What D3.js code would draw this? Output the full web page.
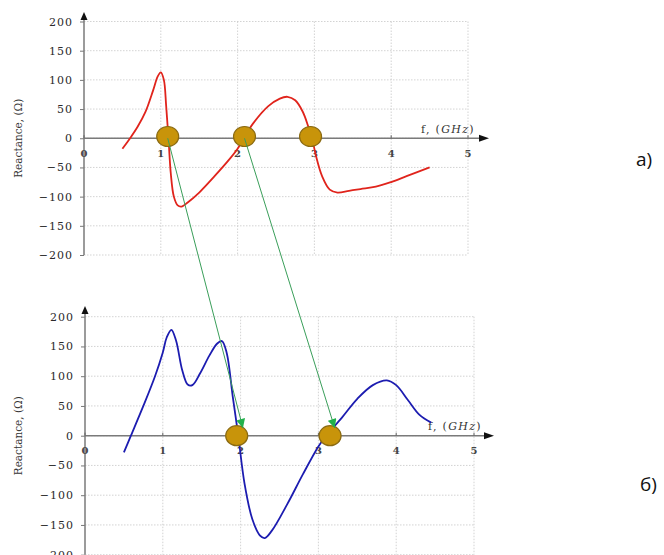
<!DOCTYPE html>
<html><head><meta charset="utf-8">
<script src="https://cdn.jsdelivr.net/npm/d3@7"></script>
<style>body{margin:0;background:#fff}svg{display:block}</style>
</head><body><svg id="c" width="664" height="555"></svg>
<script>
// ---- data ----
const freqTicks = [0, 1, 2, 3, 4, 5];
const reactTicks = [-200, -150, -100, -50, 0, 50, 100, 150, 200];
const redF = [0.5,0.6,0.7,0.8,0.9,0.96,1.0,1.04,1.07,1.1,1.13,1.17,1.22,1.27,1.35,1.5,1.7,1.9,2.0,2.08,2.2,2.4,2.55,2.65,2.75,2.85,2.92,2.97,3.02,3.1,3.2,3.3,3.45,3.6,3.8,4.0,4.2,4.5];
const redX = [-18,0,20,45,82,106,113,100,55,0,-60,-100,-115,-117,-110,-93,-65,-35,-18,0,25,55,68,71,65,45,20,0,-30,-65,-88,-93,-90,-87,-83,-75,-65,-50];
const blueF = [0.5,0.59,0.75,0.9,1.0,1.05,1.11,1.17,1.25,1.32,1.38,1.48,1.6,1.7,1.76,1.82,1.9,1.97,2.05,2.15,2.25,2.31,2.4,2.6,2.8,3.0,3.1,3.3,3.5,3.7,3.88,4.0,4.15,4.3,4.45];
const blueX = [-28,0,50,100,140,165,178,160,110,86,85,105,135,155,159,140,65,0,-80,-140,-168,-172,-160,-115,-65,-18,0,30,62,85,93,85,60,35,22];
const topDotsF = [1.09, 2.09, 2.95];
const bottomDotsF = [1.95, 3.15];
const arrowFromF = [1.09, 2.09];
const arrowToF = [2.03, 3.21];
const arrowToX = [13, 13];
const panelLabels = ["а)", "б)"];

const svg = d3.select("#c");
const defs = svg.append("defs");
defs.append("marker").attr("id","gh").attr("viewBox","0 0 10 10").attr("refX",10).attr("refY",5)
  .attr("markerWidth",10).attr("markerHeight",9).attr("markerUnits","userSpaceOnUse").attr("orient","auto")
  .append("path").attr("d","M0,0L10,5L0,10z").attr("fill","#22b14c");

const serif = "DejaVu Serif";

function panel(xr, yr, arrowTop, arrowRight, tickBase, flabel) {
  const x = d3.scaleLinear().domain([0,5]).range(xr);
  const y = d3.scaleLinear().domain([-200,200]).range(yr);
  const g = svg.append("g");
  // grid
  g.selectAll(".hg").data(reactTicks).enter().append("line")
    .attr("x1", x(0)).attr("x2", x(5)).attr("y1", d=>y(d)).attr("y2", d=>y(d))
    .attr("stroke","#c8c8c8").attr("stroke-width",0.8).attr("stroke-dasharray","1.5,1.5");
  g.selectAll(".vg").data(freqTicks.slice(1)).enter().append("line")
    .attr("x1", d=>x(d)).attr("x2", d=>x(d)).attr("y1", y(200)).attr("y2", y(-200))
    .attr("stroke","#c8c8c8").attr("stroke-width",0.8).attr("stroke-dasharray","1.5,1.5");
  // y axis
  const ya = d3.axisLeft(y).tickValues(reactTicks).tickSize(4).tickPadding(8);
  const yg = g.append("g").attr("transform",`translate(${x(0)},0)`).call(ya);
  yg.select(".domain").remove();
  yg.selectAll(".tick line").attr("stroke","#777");
  yg.selectAll(".tick text").attr("font-family",serif).attr("font-size",11).attr("fill","#2a2a2a")
    .attr("letter-spacing","1px").attr("dx","1");
  g.append("line").attr("x1",x(0)).attr("x2",x(0)).attr("y1",arrowTop+6).attr("y2",y(-200))
    .attr("stroke","#7a7a7a").attr("stroke-width",1.5);
  g.append("path").attr("d",`M${x(0)},${arrowTop}l-3.5,8h7z`).attr("fill","#111");
  // x axis
  g.append("line").attr("x1",x(0)).attr("x2",arrowRight-6).attr("y1",y(0)).attr("y2",y(0))
    .attr("stroke","#7a7a7a").attr("stroke-width",1.5);
  g.append("path").attr("d",`M${arrowRight},${y(0)}l-10,-3.5v7z`).attr("fill","#111");
  g.selectAll(".xt").data(freqTicks).enter().append("line")
    .attr("x1",d=>x(d)).attr("x2",d=>x(d)).attr("y1",y(0)-3).attr("y2",y(0))
    .attr("stroke","#666");
  g.selectAll(".xl").data(freqTicks).enter().append("text")
    .attr("x",d=>x(d)).attr("y",tickBase).attr("text-anchor","middle")
    .attr("font-family",serif).attr("font-size",10).attr("font-weight","bold").attr("fill","#444")
    .text(d=>d);
  // axis titles
  const ft = g.append("text").attr("x",flabel[0]).attr("y",flabel[1])
    .attr("font-family",serif).attr("font-size",11).attr("fill","#333").attr("letter-spacing","1.3px");
  ft.append("tspan").text("f, (");
  ft.append("tspan").attr("font-style","italic").text("GHz");
  ft.append("tspan").text(")");
  g.append("text").attr("transform",`translate(22,${y(0)}) rotate(-90)`).attr("text-anchor","middle")
    .attr("font-family",serif).attr("font-size",10.5).attr("fill","#333").text("Reactance, (Ω)");
  return {x, y, g};
}

const A = panel([84, 468], [255, 21.5], 12, 489, 157, [421, 133]);
const B = panel([85, 474], [554.7, 316.7], 306, 494, 454, [428, 430]);

const lineGen = (p) => d3.line().x(d=>p.x(d[0])).y(d=>p.y(d[1])).curve(d3.curveCatmullRom.alpha(0.5));
A.g.append("path").datum(redF.map((f,i)=>[f,redX[i]])).attr("d",lineGen(A))
  .attr("fill","none").attr("stroke","#e0241c").attr("stroke-width",1.8);
B.g.append("path").datum(blueF.map((f,i)=>[f,blueX[i]])).attr("d",lineGen(B))
  .attr("fill","none").attr("stroke","#1c1cb0").attr("stroke-width",1.8);

function dots(p, fs, yv) {
  p.g.selectAll(".dot").data(fs).enter().append("ellipse")
    .attr("cx",d=>p.x(d)).attr("cy",p.y(yv)).attr("rx",11).attr("ry",10)
    .attr("fill","#c8940a").attr("stroke","#8a6a12").attr("stroke-width",1.2);
}
dots(A, topDotsF, 3);
dots(B, bottomDotsF, 0);

svg.append("g").selectAll("line").data(arrowFromF).enter().append("line")
  .attr("x1",d=>A.x(d)).attr("y1",A.y(0))
  .attr("x2",(d,i)=>B.x(arrowToF[i])).attr("y2",(d,i)=>B.y(arrowToX[i]))
  .attr("stroke","#3a9e5a").attr("stroke-width",1).attr("marker-end","url(#gh)");

svg.selectAll(".pl").data(panelLabels).enter().append("text")
  .attr("x",(d,i)=>i?640:636).attr("y",(d,i)=>i?491:166)
  .attr("font-family","Open Sans").attr("font-size",19).attr("fill","#111").text(d=>d);
</script></body></html>
